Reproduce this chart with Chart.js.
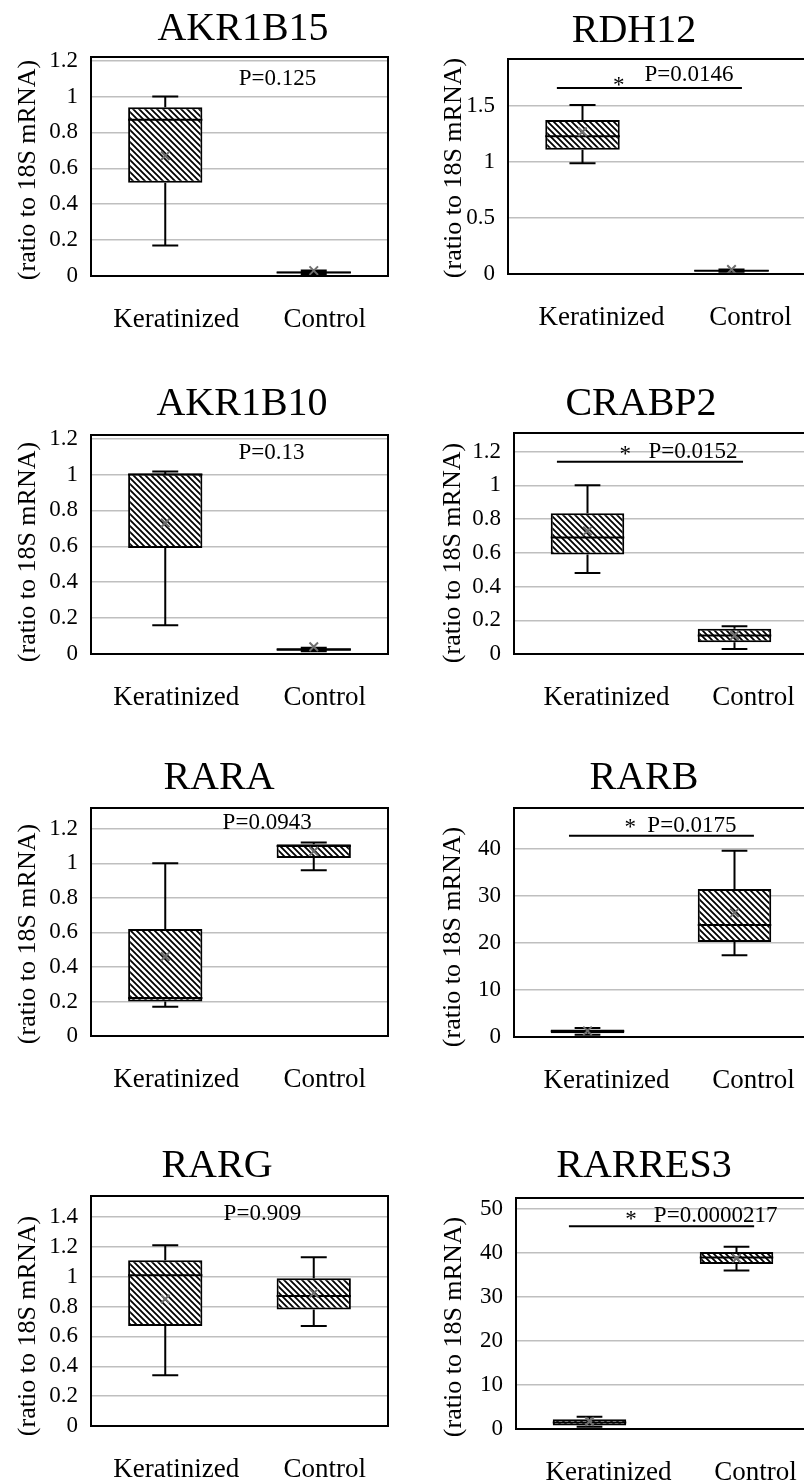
<!DOCTYPE html>
<html><head><meta charset="utf-8">
<script src="https://cdn.jsdelivr.net/npm/chart.js@4.4.1/dist/chart.umd.min.js"></script>
<style>
html,body{margin:0;padding:0;background:#fff;width:804px;height:1480px;overflow:hidden;position:relative;}
canvas{position:absolute;}
</style></head><body>
<script>
// ---------------- DATA ----------------
const genes = ['AKR1B15','RDH12','AKR1B10','CRABP2','RARA','RARB','RARG','RARRES3'];
const categories = ['Keratinized','Control'];
// per gene: [Keratinized, Control]
const whiskerMin = [[0.17,0.01],[0.99,0.02],[0.16,0.015],[0.48,0.03],[0.17,0.96],[0.5,17.4],[0.34,0.67],[0.5,36.0]];
const quartile1  = [[0.52,0.015],[1.11,0.025],[0.59,0.018],[0.59,0.07],[0.20,1.03],[0.8,20.2],[0.67,0.78],[0.8,37.5]];
const medians    = [[0.87,0.02],[1.23,0.03],[1.0,0.025],[0.69,0.11],[0.22,1.10],[1.2,23.8],[1.01,0.87],[1.5,39.0]];
const quartile3  = [[0.94,0.025],[1.375,0.035],[1.005,0.032],[0.835,0.15],[0.62,1.11],[1.6,31.5],[1.11,0.99],[2.2,40.2]];
const whiskerMax = [[1.0,0.03],[1.51,0.04],[1.017,0.035],[1.0,0.165],[1.0,1.12],[1.9,39.6],[1.21,1.13],[2.8,41.4]];
const means      = [[0.67,0.03],[1.27,0.04],[0.73,0.04],[0.73,0.11],[0.46,1.07],[1.3,26.4],[0.85,0.89],[1.7,38.8]];
const pLabels    = ['P=0.125','P=0.0146','P=0.13','P=0.0152','P=0.0943','P=0.0175','P=0.909','P=0.0000217'];
const significant = [false,true,false,true,false,true,false,true];
const yMax  = [1.22,1.92,1.22,1.31,1.32,48.7,1.54,52.5];
const yStep = [0.2,0.5,0.2,0.2,0.2,10,0.2,10];
const yTitle = '(ratio to 18S mRNA)';

// ---------------- LAYOUT (page pixels) ----------------
const layout = [
 {cx:0,   cy:0,    cw:402, box:[91,57,388,276],    title:[243,40],   ytitle:[28,170],  lblOff:11, p:[0.628,1.10]},
 {cx:402, cy:0,    cw:420, box:[508,59,806,274],   title:[634,42],   ytitle:[454,168], lblOff:19, p:[0.607,1.78],  star:[0.372,1.68],  line:[0.164,0.785,1.66]},
 {cx:0,   cy:360,  cw:402, box:[91,435,388,654],   title:[242,415],  ytitle:[28,552],  lblOff:11, p:[0.608,1.12]},
 {cx:402, cy:360,  cw:420, box:[514,433,808,654],  title:[641,415],  ytitle:[453,553], lblOff:19, p:[0.609,1.195], star:[0.378,1.18],  line:[0.146,0.779,1.14]},
 {cx:0,   cy:740,  cw:402, box:[91,808,388,1036],  title:[219,789],  ytitle:[28,934],  lblOff:11, p:[0.593,1.235]},
 {cx:402, cy:740,  cw:420, box:[514,808,808,1037], title:[644,789],  ytitle:[453,937], lblOff:19, p:[0.605,44.9],  star:[0.395,44.5],  line:[0.187,0.816,42.8]},
 {cx:0,   cy:1110, cw:402, box:[91,1196,388,1426], title:[217,1177], ytitle:[28,1326], lblOff:11, p:[0.577,1.42]},
 {cx:402, cy:1110, cw:420, box:[516,1198,810,1429],title:[644,1177], ytitle:[454,1327],lblOff:19, p:[0.679,48.4],  star:[0.391,47.5],  line:[0.180,0.810,46.1]}
];
const FONT = "'Liberation Serif','Times New Roman',serif";
Chart.defaults.font.family = FONT;
Chart.defaults.color = '#000';

function makeHatch(){
  const c = document.createElement('canvas'); c.width = 6; c.height = 6;
  const g = c.getContext('2d');
  g.fillStyle = '#fff'; g.fillRect(0,0,6,6);
  g.strokeStyle = '#000'; g.lineWidth = 1.8;
  g.beginPath();
  g.moveTo(-1,-1); g.lineTo(7,7);
  g.moveTo(-1,5); g.lineTo(1,7);
  g.moveTo(5,-1); g.lineTo(7,1);
  g.stroke();
  return document.createElement('canvas').getContext('2d').createPattern(c,'repeat');
}

const boxPlugin = {
  id:'boxExtras',
  afterDatasetDraw(chart, args, opts){
    if (args.index !== 0) return;
    const i = opts.i, ctx = chart.ctx, ys = chart.scales.y;
    const meta = chart.getDatasetMeta(0);
    ctx.save();
    ctx.strokeStyle = '#000'; ctx.lineWidth = 2;
    meta.data.forEach((bar, j) => {
      const x = bar.x, w = bar.width, cap = w * 0.35;
      const pMax = ys.getPixelForValue(whiskerMax[i][j]);
      const pQ3 = ys.getPixelForValue(quartile3[i][j]);
      const pQ1 = ys.getPixelForValue(quartile1[i][j]);
      const pMin = ys.getPixelForValue(whiskerMin[i][j]);
      const pMed = ys.getPixelForValue(medians[i][j]);
      ctx.beginPath();
      ctx.moveTo(x, pQ3); ctx.lineTo(x, pMax);
      ctx.moveTo(x - cap/2, pMax); ctx.lineTo(x + cap/2, pMax);
      ctx.moveTo(x, pQ1); ctx.lineTo(x, pMin);
      ctx.moveTo(x - cap/2, pMin); ctx.lineTo(x + cap/2, pMin);
      ctx.moveTo(x - w/2, pMed); ctx.lineTo(x + w/2, pMed);
      ctx.stroke();
    });
    ctx.restore();
  },
  afterDraw(chart, args, opts){
    const i = opts.i, L = layout[i], ctx = chart.ctx, ca = chart.chartArea, ys = chart.scales.y;
    ctx.save();
    ctx.strokeStyle = '#000'; ctx.lineWidth = 2;
    ctx.strokeRect(ca.left, ca.top, ca.right - ca.left, ca.bottom - ca.top);
    ctx.fillStyle = '#000';
    ctx.font = '40px ' + FONT;
    ctx.textAlign = 'center'; ctx.textBaseline = 'alphabetic';
    ctx.fillText(genes[i], L.title[0] - L.cx, L.title[1] - L.cy);
    ctx.save();
    ctx.translate(L.ytitle[0] - L.cx, L.ytitle[1] - L.cy);
    ctx.rotate(-Math.PI/2);
    ctx.font = '26px ' + FONT;
    ctx.textAlign = 'center'; ctx.textBaseline = 'middle';
    ctx.fillText(yTitle, 0, 0);
    ctx.restore();
    const W = ca.right - ca.left;
    ctx.font = '23px ' + FONT;
    ctx.textAlign = 'center'; ctx.textBaseline = 'middle';
    ctx.fillText(pLabels[i], ca.left + L.p[0]*W, ys.getPixelForValue(L.p[1]));
    if (significant[i]) {
      ctx.fillText('*', ca.left + L.star[0]*W, ys.getPixelForValue(L.star[1]));
      const ly = ys.getPixelForValue(L.line[2]);
      ctx.lineWidth = 2;
      ctx.beginPath();
      ctx.moveTo(ca.left + L.line[0]*W, ly); ctx.lineTo(ca.left + L.line[1]*W, ly);
      ctx.stroke();
    }
    ctx.restore();
  }
};

const hatch = makeHatch();

genes.forEach((g, i) => {
  const L = layout[i];
  const H = L.box[3] - L.cy + 60;
  const cv = document.createElement('canvas');
  cv.width = L.cw; cv.height = H;
  cv.style.left = L.cx + 'px'; cv.style.top = L.cy + 'px';
  cv.style.width = L.cw + 'px'; cv.style.height = H + 'px';
  document.body.appendChild(cv);
  new Chart(cv, {
    type:'bar',
    data:{
      labels: categories,
      datasets:[
        {type:'bar', data: categories.map((_, j) => [quartile1[i][j], quartile3[i][j]]),
         backgroundColor: hatch, borderColor:'#000', borderWidth:2, borderSkipped:false,
         barPercentage:0.5, categoryPercentage:1, order:2},
        {type:'line', data: means[i], showLine:false, pointStyle:'crossRot', pointRadius:6,
         pointBorderColor:'#6e6e6e', pointBorderWidth:2, pointBackgroundColor:'rgba(0,0,0,0)', order:1}
      ]
    },
    options:{
      responsive:false, animation:false, events:[],
      layout:{padding:{left:0, top: L.box[1] - L.cy, right: L.cx + L.cw - L.box[2], bottom:0}},
      plugins:{legend:{display:false}, tooltip:{enabled:false}, boxExtras:{i:i}},
      scales:{
        x:{type:'category', offset:true, grid:{display:false}, border:{display:false},
           ticks:{font:{size:27}, color:'#000', padding:20, labelOffset:L.lblOff, maxRotation:0, autoSkip:false},
           afterFit:(s)=>{ s.height = 60; }},
        y:{min:0, max:yMax[i], grid:{color:'#bfbfbf', lineWidth:1.5, drawTicks:false}, border:{display:false},
           ticks:{stepSize:yStep[i], includeBounds:false, font:{size:23}, color:'#000', padding:13,
                  callback:(v)=>String(Math.round(v*100)/100)},
           afterFit:(s)=>{ s.width = L.box[0] - L.cx; }}
      }
    },
    plugins:[boxPlugin]
  });
});
</script>
</body></html>
